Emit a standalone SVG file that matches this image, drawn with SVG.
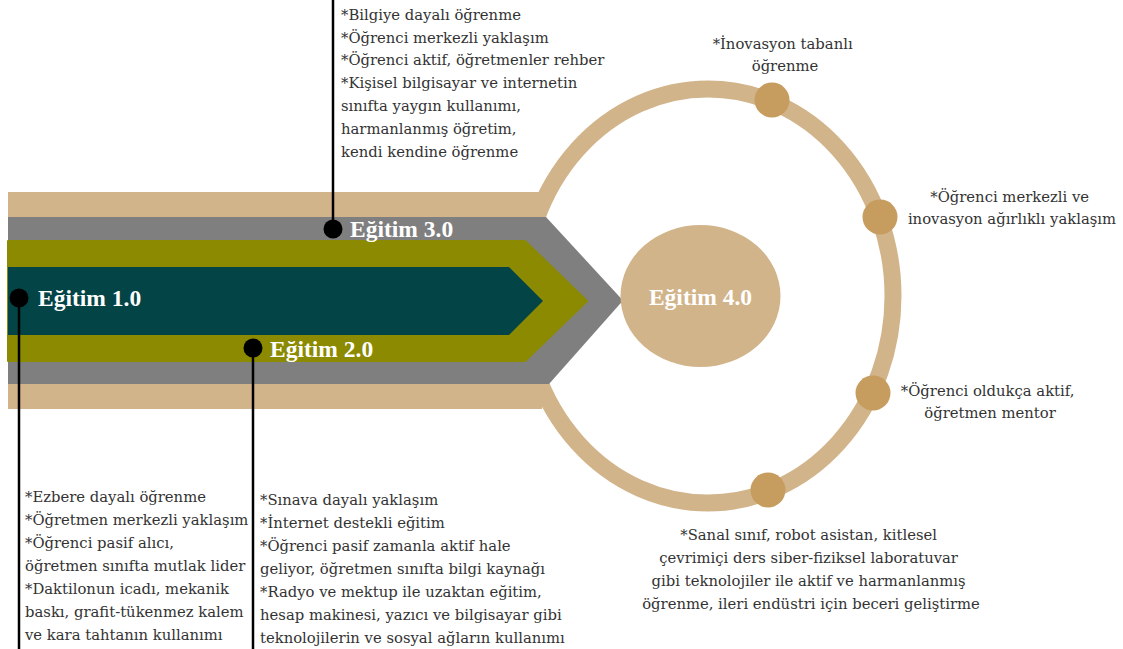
<svg xmlns="http://www.w3.org/2000/svg" width="1123" height="649" viewBox="0 0 1123 649">
<style>
.body{font-family:"DejaVu Serif","Liberation Serif",serif;font-size:14.8px;fill:#333333}
.mid{text-anchor:middle}
.lbl{font-family:"Liberation Serif",serif;font-weight:bold;font-size:23.5px;fill:#ffffff}
.tan{fill:#d2b48b}
.knob{fill:#c69c5f}
.lead{stroke:#000;stroke-width:2.5;fill:none}
</style>
<rect width="1123" height="649" fill="#ffffff"/>
<g id="band">
  <rect class="tan" x="8" y="192" width="534" height="217"/>
  <ellipse cx="708" cy="296" rx="185" ry="207" fill="none" stroke="#d2b48b" stroke-width="17"/>
  <polygon points="8,217 546,217 623,300.5 549,384 8,384" fill="#7f7f7f"/>
  <polygon points="8,241 525,241 587,301 525,361 8,361" fill="#8b8a00" stroke="#8b8a00" stroke-width="2" stroke-linejoin="round"/>
  <polygon points="8,267 509,267 543,301 509,335 8,335" fill="#034447"/>
</g>
<g id="ring-dots">
  <circle class="knob" cx="772" cy="100" r="17.5"/>
  <circle class="knob" cx="880" cy="217" r="17.5"/>
  <circle class="knob" cx="873" cy="393" r="17.5"/>
  <circle class="knob" cx="768" cy="490" r="17.5"/>
</g>
<g id="egitim4">
  <ellipse class="tan" cx="700.5" cy="296" rx="80" ry="71"/>
  <text class="lbl mid" x="700.5" y="305">Eğitim 4.0</text>
</g>
<g id="connectors">
  <line class="lead" x1="333" y1="0" x2="333" y2="229"/>
  <line class="lead" x1="19" y1="298" x2="19" y2="649"/>
  <line class="lead" x1="253" y1="348" x2="253" y2="649"/>
</g>
<g id="egitim1">
  <circle cx="19" cy="298" r="9.5" fill="#000"/>
  <text class="lbl" x="38" y="306">Eğitim 1.0</text>
  <text class="body" x="25">
    <tspan x="25" y="502">*Ezbere dayalı öğrenme</tspan>
    <tspan x="25" y="525">*Öğretmen merkezli yaklaşım</tspan>
    <tspan x="25" y="548">*Öğrenci pasif alıcı,</tspan>
    <tspan x="25" y="571">öğretmen sınıfta mutlak lider</tspan>
    <tspan x="25" y="594">*Daktilonun icadı, mekanik</tspan>
    <tspan x="25" y="617">baskı, grafit-tükenmez kalem</tspan>
    <tspan x="25" y="640">ve kara tahtanın kullanımı</tspan>
  </text>
</g>
<g id="egitim2">
  <circle cx="253" cy="348" r="9.5" fill="#000"/>
  <text class="lbl" x="270" y="357">Eğitim 2.0</text>
  <text class="body">
    <tspan x="260" y="505">*Sınava dayalı yaklaşım</tspan>
    <tspan x="260" y="528">*İnternet destekli eğitim</tspan>
    <tspan x="260" y="551">*Öğrenci pasif zamanla aktif hale</tspan>
    <tspan x="260" y="574">geliyor, öğretmen sınıfta bilgi kaynağı</tspan>
    <tspan x="260" y="597">*Radyo ve mektup ile uzaktan eğitim,</tspan>
    <tspan x="260" y="620">hesap makinesi, yazıcı ve bilgisayar gibi</tspan>
    <tspan x="260" y="643">teknolojilerin ve sosyal ağların kullanımı</tspan>
  </text>
</g>
<g id="egitim3">
  <circle cx="333" cy="229" r="9.5" fill="#000"/>
  <text class="lbl" x="350" y="237">Eğitim 3.0</text>
  <text class="body">
    <tspan x="341" y="20">*Bilgiye dayalı öğrenme</tspan>
    <tspan x="341" y="43">*Öğrenci merkezli yaklaşım</tspan>
    <tspan x="341" y="65">*Öğrenci aktif, öğretmenler rehber</tspan>
    <tspan x="341" y="88">*Kişisel bilgisayar ve internetin</tspan>
    <tspan x="341" y="111">sınıfta yaygın kullanımı,</tspan>
    <tspan x="341" y="134">harmanlanmış öğretim,</tspan>
    <tspan x="341" y="157">kendi kendine öğrenme</tspan>
  </text>
</g>
<g id="egitim4-notes">
  <text class="body mid">
    <tspan x="785" y="49">*İnovasyon tabanlı</tspan>
    <tspan x="785" y="71">öğrenme</tspan>
  </text>
  <text class="body mid">
    <tspan x="1012" y="202">*Öğrenci merkezli ve</tspan>
    <tspan x="1012" y="224">inovasyon ağırlıklı yaklaşım</tspan>
  </text>
  <text class="body mid">
    <tspan x="990" y="396">*Öğrenci oldukça aktif,</tspan>
    <tspan x="990" y="418">öğretmen mentor</tspan>
  </text>
  <text class="body mid">
    <tspan x="811" y="540">*Sanal sınıf, robot asistan, kitlesel</tspan>
    <tspan x="811" y="563">çevrimiçi ders siber-fiziksel laboratuvar</tspan>
    <tspan x="811" y="586">gibi teknolojiler ile aktif ve harmanlanmış</tspan>
    <tspan x="811" y="609">öğrenme, ileri endüstri için beceri geliştirme</tspan>
  </text>
</g>
</svg>
